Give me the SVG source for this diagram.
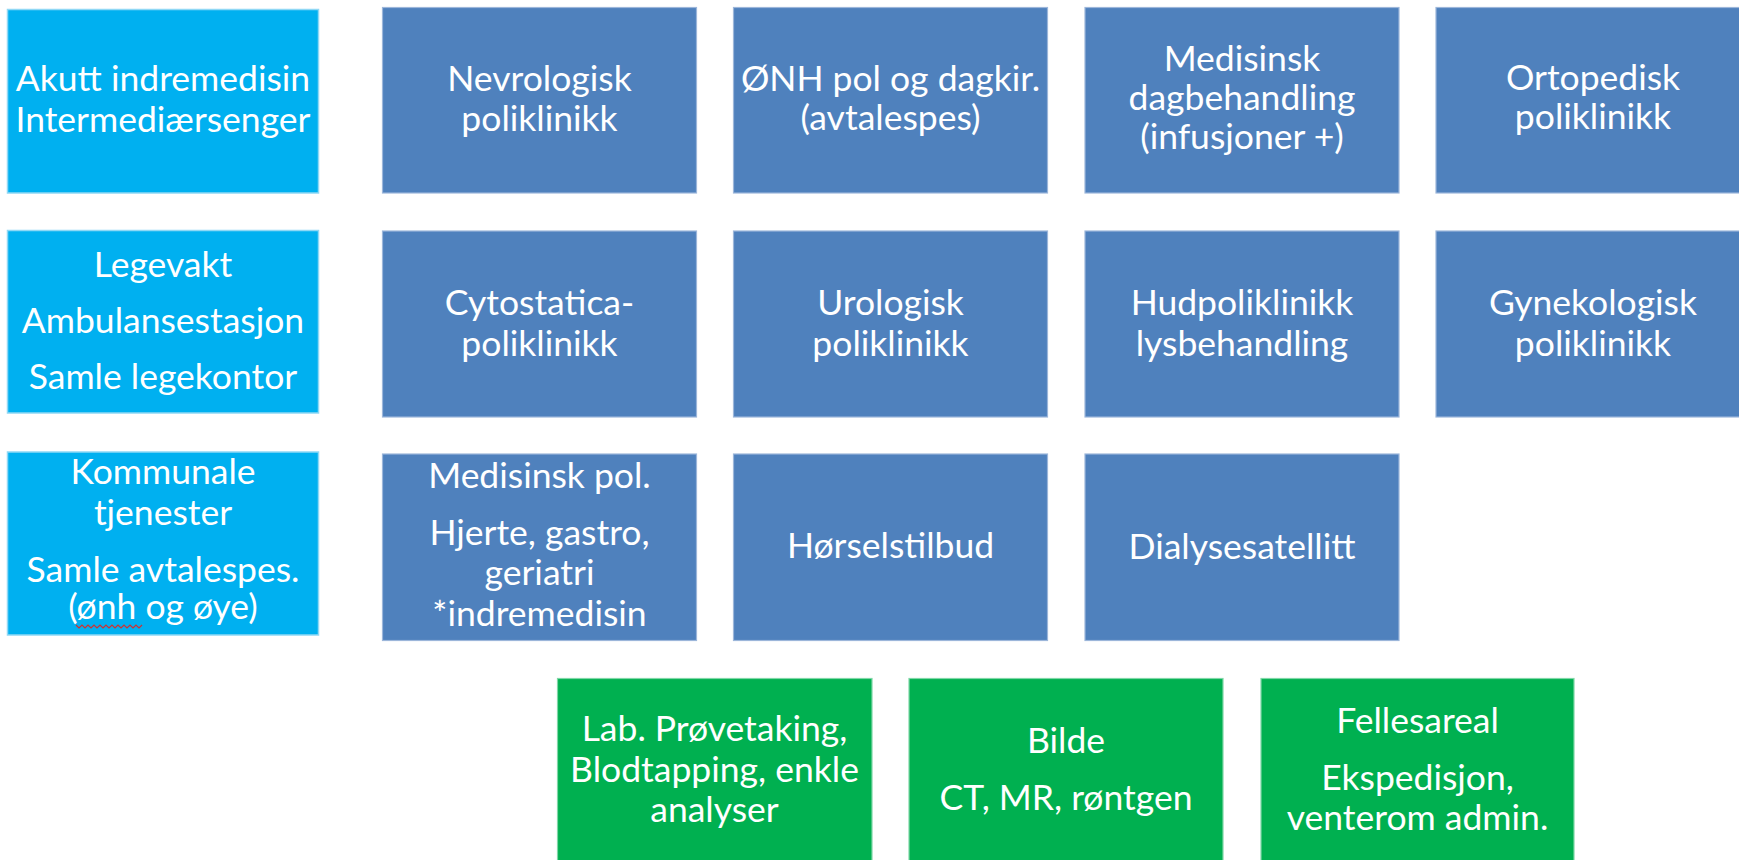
<svg xmlns="http://www.w3.org/2000/svg" width="1739" height="860" viewBox="0 0 1739 860">
<style>
.cy{fill:#00B0F0;stroke:#8fd8f5;stroke-width:1.5}
.bl{fill:#4F81BD;stroke:#9cb6da;stroke-width:1.2}
.gr{fill:#00B050;stroke:#7fd8a7;stroke-width:1.2}
text{font-family:Lato,"Open Sans","Liberation Sans",sans-serif;font-size:35.5px;fill:#ffffff;text-anchor:middle}
</style>
<rect x="0" y="0" width="1739" height="860" fill="#ffffff"/>

<g id="akutt">
<rect class="cy" x="7.5" y="9.5" width="311" height="183.5"/>
<text x="163" y="91">Akutt indremedisin</text>
<text x="163" y="132">Intermediærsenger</text>
</g>
<g id="nevrologisk">
<rect class="bl" x="382.5" y="7.5" width="314" height="185.5"/>
<text x="539.5" y="91">Nevrologisk</text>
<text x="539.5" y="131">poliklinikk</text>
</g>
<g id="onh">
<rect class="bl" x="733.5" y="7.5" width="314" height="185.5"/>
<text x="890.5" y="91">ØNH pol og dagkir.</text>
<text x="890.5" y="130">(avtalespes)</text>
</g>
<g id="medisinsk-dag">
<rect class="bl" x="1085" y="7.5" width="314" height="185.5"/>
<text x="1242" y="71">Medisinsk</text>
<text x="1242" y="110">dagbehandling</text>
<text x="1242" y="149">(infusjoner +)</text>
</g>
<g id="ortopedisk">
<rect class="bl" x="1436" y="7.5" width="320" height="185.5"/>
<text x="1593" y="90">Ortopedisk</text>
<text x="1593" y="129">poliklinikk</text>
</g>

<g id="legevakt">
<rect class="cy" x="7.5" y="230.5" width="311" height="182.5"/>
<text x="163" y="277">Legevakt</text>
<text x="163" y="333">Ambulansestasjon</text>
<text x="163" y="389">Samle legekontor</text>
</g>
<g id="cytostatica">
<rect class="bl" x="382.5" y="231" width="314" height="186"/>
<text x="539.5" y="315">Cytostatica-</text>
<text x="539.5" y="356">poliklinikk</text>
</g>
<g id="urologisk">
<rect class="bl" x="733.5" y="231" width="314" height="186"/>
<text x="890.5" y="315">Urologisk</text>
<text x="890.5" y="356">poliklinikk</text>
</g>
<g id="hud">
<rect class="bl" x="1085" y="231" width="314" height="186"/>
<text x="1242" y="315">Hudpoliklinikk</text>
<text x="1242" y="356">lysbehandling</text>
</g>
<g id="gynekologisk">
<rect class="bl" x="1436" y="231" width="320" height="186"/>
<text x="1593" y="315">Gynekologisk</text>
<text x="1593" y="356">poliklinikk</text>
</g>

<g id="kommunale">
<rect class="cy" x="7.5" y="452" width="311" height="183"/>
<text x="163" y="484">Kommunale</text>
<text x="163" y="525">tjenester</text>
<text x="163" y="582">Samle avtalespes.</text>
<text x="163" y="619">(ønh og øye)</text>
<polyline points="76,625 79,628 82,625 85,628 88,625 91,628 94,625 97,628 100,625 103,628 106,625 109,628 112,625 115,628 118,625 121,628 124,625 127,628 130,625 133,628 136,625 139,628 142,625" fill="none" stroke="#d03030" stroke-width="1.2"/>
</g>
<g id="medisinsk-pol">
<rect class="bl" x="382.5" y="454" width="314" height="186.5"/>
<text x="539.5" y="488">Medisinsk pol.</text>
<text x="539.5" y="545">Hjerte, gastro,</text>
<text x="539.5" y="585">geriatri</text>
<text x="539.5" y="626">*indremedisin</text>
</g>
<g id="horsel">
<rect class="bl" x="733.5" y="454" width="314" height="186.5"/>
<text x="890.5" y="558">Hørselstilbud</text>
</g>
<g id="dialyse">
<rect class="bl" x="1085" y="454" width="314" height="186.5"/>
<text x="1242" y="559">Dialysesatellitt</text>
</g>

<g id="lab">
<rect class="gr" x="557.5" y="678.5" width="314.5" height="190"/>
<text x="714.5" y="741">Lab. Prøvetaking,</text>
<text x="714.5" y="782">Blodtapping, enkle</text>
<text x="714.5" y="822">analyser</text>
</g>
<g id="bilde">
<rect class="gr" x="909" y="678.5" width="314" height="190"/>
<text x="1066" y="753">Bilde</text>
<text x="1066" y="810">CT, MR, røntgen</text>
</g>
<g id="fellesareal">
<rect class="gr" x="1261" y="678.5" width="313" height="190"/>
<text x="1417.5" y="733">Fellesareal</text>
<text x="1417.5" y="790">Ekspedisjon,</text>
<text x="1417.5" y="830">venterom admin.</text>
</g>
</svg>
